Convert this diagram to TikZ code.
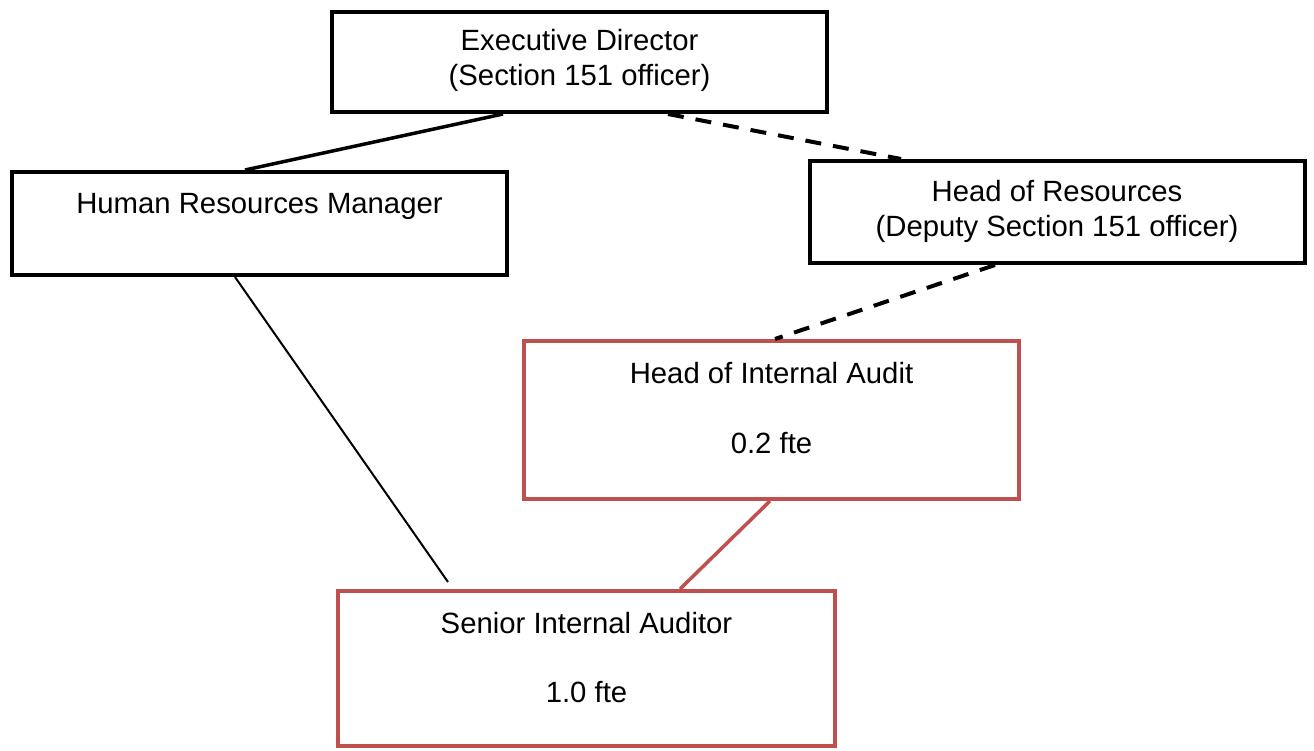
\documentclass[tikz,border=0pt]{standalone}
\usepackage{fontspec}
\setmainfont{Liberation Sans}
\definecolor{auditred}{HTML}{C0504D}
\tikzset{
  orgbox/.style={draw=black, line width=4pt, rectangle, inner sep=0pt, minimum width=495pt},
  auditbox/.style={orgbox, draw=auditred},
  boxtext/.style={anchor=base, align=center, inner sep=0pt, font=\fontsize{29.3}{35}\selectfont},
  solidlink/.style={draw=black, line width=3.5pt},
  dashlink/.style={draw=black, line width=4pt, dash pattern=on 16pt off 12pt},
  thinlink/.style={draw=black, line width=2pt},
  redlink/.style={draw=auditred, line width=3.5pt}
}
\begin{document}
\begin{tikzpicture}[x=1pt, y=-1pt]
\useasboundingbox (0,0) rectangle (1314,750);

% boxes
\node[orgbox, minimum height=100pt] (ed)  at (579.5,62)   {};
\node[orgbox, minimum height=103pt] (hr)  at (259.5,223.5) {};
\node[orgbox, minimum height=102pt] (hor) at (1057.5,212) {};
\node[auditbox, minimum height=158pt] (hia) at (771.5,420) {};
\node[auditbox, minimum width=497pt, minimum height=155pt] (sia) at (586.5,668.5) {};

% box texts (base anchor sits on the last line)
\node[boxtext] (edtext)  at (579.5,85)  {Executive Director\\(Section 151 officer)};
\node[boxtext] (hrtext)  at (259.5,213) {Human Resources Manager};
\node[boxtext] (hortext) at (1057,236)  {Head of Resources\\(Deputy Section 151 officer)};
\node[boxtext] (hiatext) at (771.5,453) {Head of Internal Audit\\[35pt]0.2 fte};
\node[boxtext] (siatext) at (586.5,702) {Senior Internal Auditor\\[34pt]1.0 fte};

% free end of the line-management link
\coordinate (hrend) at (448,582);

% connectors
\draw[solidlink] ([xshift=173pt]ed.south west) -- ([xshift=235pt]hr.north west);
\draw[dashlink]  ([xshift=338pt]ed.south west) -- ([xshift=93pt]hor.north west);
\draw[dashlink]  ([xshift=187pt]hor.south west) -- ([xshift=253pt]hia.north west);
\draw[thinlink]  ([xshift=225pt]hr.south west) -- (hrend);
\draw[redlink]   ([xshift=248pt]hia.south west) -- ([xshift=344pt]sia.north west);
\end{tikzpicture}
\end{document}
